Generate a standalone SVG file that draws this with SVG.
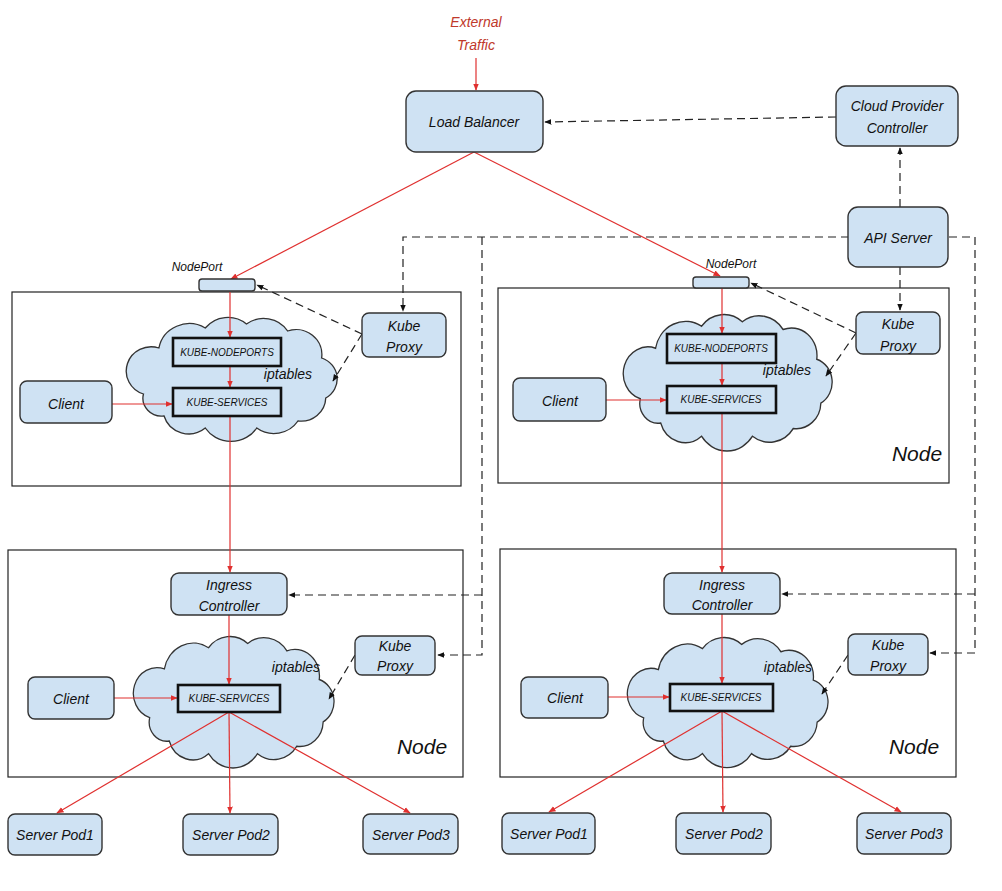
<svg xmlns="http://www.w3.org/2000/svg" width="1002" height="891" viewBox="0 0 1002 891">
<style>
.box{fill:#cfe2f3;stroke:#333;stroke-width:1.4}
.node{fill:none;stroke:#222;stroke-width:1.2}
.chain{fill:#cfe2f3;stroke:#111;stroke-width:2.6}
.cloud{fill:#cfe2f3;stroke:#333;stroke-width:1.3}
.t{font-family:"Liberation Sans",Arial,sans-serif;font-style:italic;font-size:14px;fill:#111;text-anchor:middle}
.s{font-family:"Liberation Sans",Arial,sans-serif;font-style:italic;font-size:10px;fill:#111;text-anchor:middle}
.n{font-family:"Liberation Sans",Arial,sans-serif;font-style:italic;font-size:21px;fill:#111;text-anchor:middle}
.ext{font-family:"Liberation Sans",Arial,sans-serif;font-style:italic;font-size:14px;fill:#c0392b;text-anchor:middle}
.red{fill:none;stroke:#e0302f;stroke-width:1.2;marker-end:url(#ar)}
.dash{fill:none;stroke:#222;stroke-width:1.2;stroke-dasharray:8 5;marker-end:url(#ab)}
</style>
<defs>
<marker id="ar" viewBox="0 0 10 10" refX="9" refY="5" markerWidth="6" markerHeight="6" orient="auto"><path d="M0,1 L10,5 L0,9 z" fill="#e0302f"/></marker>
<marker id="ab" viewBox="0 0 10 10" refX="9" refY="5" markerWidth="6" markerHeight="6" orient="auto"><path d="M0,1 L10,5 L0,9 z" fill="#111"/></marker>
<path id="cl" d="M15,78 A22 22 0 0 1 30,32 A30 30 0 0 1 75,12 A28 28 0 0 1 115,8 A28 28 0 0 1 155,15 A25 25 0 0 1 188,42 A22 22 0 0 1 192,82 A24 24 0 0 1 165,105 A28 28 0 0 1 125,112 A30 30 0 0 1 75,112 A25 25 0 0 1 35,100 A18 18 0 0 1 15,78 Z"/>
</defs>
<rect width="1002" height="891" fill="#fff"/>

<!-- node containers -->
<g id="node-tl"><rect class="node" x="12" y="292" width="449" height="194"/></g>
<g id="node-tr"><rect class="node" x="498" y="288" width="451" height="195"/><text class="n" x="917" y="461">Node</text></g>
<g id="node-bl"><rect class="node" x="8" y="550" width="455" height="227"/><text class="n" x="422" y="754">Node</text></g>
<g id="node-br"><rect class="node" x="500" y="549" width="456" height="228"/><text class="n" x="914" y="754">Node</text></g>

<!-- clouds -->
<g id="iptables-tl"><use href="#cl" class="cloud" transform="translate(128,316) scale(1.03,1.0)"/><text class="t" x="288" y="379">iptables</text></g>
<g id="iptables-tr"><use href="#cl" class="cloud" transform="translate(625,313) scale(1.02,1.1)"/><text class="t" x="787" y="375">iptables</text></g>
<g id="iptables-bl"><use href="#cl" class="cloud" transform="translate(135,635) scale(0.98,1.06)"/><text class="t" x="296" y="672">iptables</text></g>
<g id="iptables-br"><use href="#cl" class="cloud" transform="translate(629,636) scale(0.98,1.05)"/><text class="t" x="788" y="672">iptables</text></g>

<!-- connectors -->
<g id="connectors">
<line class="red" x1="476" y1="58" x2="476" y2="90"/>
<line class="red" x1="474" y1="152" x2="231" y2="279"/>
<line class="red" x1="474" y1="152" x2="720" y2="276"/>
<line class="red" x1="230" y1="292" x2="230" y2="337"/>
<line class="red" x1="230" y1="366" x2="230" y2="387"/>
<line class="red" x1="112" y1="404" x2="172" y2="404"/>
<line class="red" x1="230" y1="416" x2="230" y2="572"/>
<line class="red" x1="722" y1="288" x2="722" y2="333"/>
<line class="red" x1="722" y1="363" x2="722" y2="385"/>
<line class="red" x1="606" y1="400" x2="666" y2="400"/>
<line class="red" x1="722" y1="413" x2="722" y2="572"/>
<line class="red" x1="229" y1="615" x2="229" y2="684"/>
<line class="red" x1="114" y1="698" x2="177" y2="698"/>
<line class="red" x1="229" y1="712" x2="57" y2="813"/>
<line class="red" x1="229" y1="712" x2="230" y2="813"/>
<line class="red" x1="229" y1="712" x2="410" y2="813"/>
<line class="red" x1="722" y1="614" x2="722" y2="683"/>
<line class="red" x1="608" y1="697" x2="669" y2="697"/>
<line class="red" x1="722" y1="711" x2="549" y2="812"/>
<line class="red" x1="722" y1="711" x2="723" y2="812"/>
<line class="red" x1="722" y1="711" x2="901" y2="812"/>

<path class="dash" d="M836,117 L545,122"/>
<path class="dash" d="M900,207 L900,148"/>
<path class="dash" d="M849,237 H403 V311"/>
<path class="dash" d="M482,237 V655 H438"/>
<path class="dash" d="M482,595 H289"/>
<path class="dash" d="M900,267 V310"/>
<path class="dash" d="M949,237 H975 V653 H930"/>
<path class="dash" d="M975,594 H782"/>
<path class="dash" d="M362,334 L257,285"/>
<path class="dash" d="M362,334 L333,381"/>
<path class="dash" d="M856,333 L751,283"/>
<path class="dash" d="M856,333 L826,376"/>
<path class="dash" d="M355,655 L329,699"/>
<path class="dash" d="M848,655 L822,694"/>
</g>

<!-- top -->
<g id="external-traffic"><text class="ext" x="476" y="27">External</text><text class="ext" x="476" y="50">Traffic</text></g>
<g id="load-balancer"><rect class="box" x="406" y="91" width="137" height="61" rx="10"/><text class="t" x="474" y="127">Load Balancer</text></g>
<g id="cloud-provider-controller"><rect class="box" x="836" y="86" width="122" height="60" rx="10"/><text class="t" x="897" y="111">Cloud Provider</text><text class="t" x="897" y="133">Controller</text></g>
<g id="api-server"><rect class="box" x="848" y="207" width="100" height="60" rx="10"/><text class="t" x="898" y="243">API Server</text></g>

<!-- top-left node content -->
<g id="nodeport-tl"><rect class="box" x="199" y="279" width="56" height="12" rx="3"/><text class="t" x="197" y="271" style="font-size:12px">NodePort</text></g>
<g id="kube-nodeports-tl"><rect class="chain" x="173" y="338" width="108" height="28"/><text class="s" x="227" y="356">KUBE-NODEPORTS</text></g>
<g id="kube-services-tl"><rect class="chain" x="173" y="388" width="108" height="28"/><text class="s" x="227" y="406">KUBE-SERVICES</text></g>
<g id="client-tl"><rect class="box" x="20" y="381" width="92" height="42" rx="7"/><text class="t" x="66" y="409">Client</text></g>
<g id="kube-proxy-tl"><rect class="box" x="362" y="313" width="84" height="44" rx="7"/><text class="t" x="404" y="331">Kube</text><text class="t" x="404" y="352">Proxy</text></g>

<!-- top-right node content -->
<g id="nodeport-tr"><rect class="box" x="693" y="277" width="56" height="11" rx="3"/><text class="t" x="731" y="268" style="font-size:12px">NodePort</text></g>
<g id="kube-nodeports-tr"><rect class="chain" x="667" y="334" width="109" height="29"/><text class="s" x="721" y="352">KUBE-NODEPORTS</text></g>
<g id="kube-services-tr"><rect class="chain" x="667" y="386" width="109" height="27"/><text class="s" x="721" y="403">KUBE-SERVICES</text></g>
<g id="client-tr"><rect class="box" x="513" y="378" width="93" height="43" rx="7"/><text class="t" x="560" y="406">Client</text></g>
<g id="kube-proxy-tr"><rect class="box" x="856" y="312" width="84" height="42" rx="7"/><text class="t" x="898" y="329">Kube</text><text class="t" x="898" y="351">Proxy</text></g>

<!-- bottom-left node content -->
<g id="ingress-bl"><rect class="box" x="171" y="573" width="116" height="42" rx="8"/><text class="t" x="229" y="590">Ingress</text><text class="t" x="229" y="611">Controller</text></g>
<g id="kube-services-bl"><rect class="chain" x="178" y="685" width="102" height="27"/><text class="s" x="229" y="702">KUBE-SERVICES</text></g>
<g id="client-bl"><rect class="box" x="28" y="677" width="86" height="42" rx="7"/><text class="t" x="71" y="704">Client</text></g>
<g id="kube-proxy-bl"><rect class="box" x="355" y="636" width="80" height="39" rx="7"/><text class="t" x="395" y="651">Kube</text><text class="t" x="395" y="671">Proxy</text></g>
<g id="server-pod1-l"><rect class="box" x="8" y="814" width="94" height="41" rx="7"/><text class="t" x="55" y="840">Server Pod1</text></g>
<g id="server-pod2-l"><rect class="box" x="183" y="814" width="95" height="41" rx="7"/><text class="t" x="231" y="840">Server Pod2</text></g>
<g id="server-pod3-l"><rect class="box" x="363" y="814" width="95" height="40" rx="7"/><text class="t" x="411" y="840">Server Pod3</text></g>

<!-- bottom-right node content -->
<g id="ingress-br"><rect class="box" x="664" y="573" width="116" height="41" rx="8"/><text class="t" x="722" y="590">Ingress</text><text class="t" x="722" y="610">Controller</text></g>
<g id="kube-services-br"><rect class="chain" x="670" y="684" width="103" height="27"/><text class="s" x="721" y="701">KUBE-SERVICES</text></g>
<g id="client-br"><rect class="box" x="521" y="677" width="87" height="41" rx="7"/><text class="t" x="565" y="703">Client</text></g>
<g id="kube-proxy-br"><rect class="box" x="848" y="634" width="80" height="41" rx="7"/><text class="t" x="888" y="650">Kube</text><text class="t" x="888" y="671">Proxy</text></g>
<g id="server-pod1-r"><rect class="box" x="502" y="813" width="93" height="41" rx="7"/><text class="t" x="549" y="839">Server Pod1</text></g>
<g id="server-pod2-r"><rect class="box" x="676" y="813" width="95" height="41" rx="7"/><text class="t" x="724" y="839">Server Pod2</text></g>
<g id="server-pod3-r"><rect class="box" x="857" y="813" width="94" height="41" rx="7"/><text class="t" x="904" y="839">Server Pod3</text></g>
</svg>
